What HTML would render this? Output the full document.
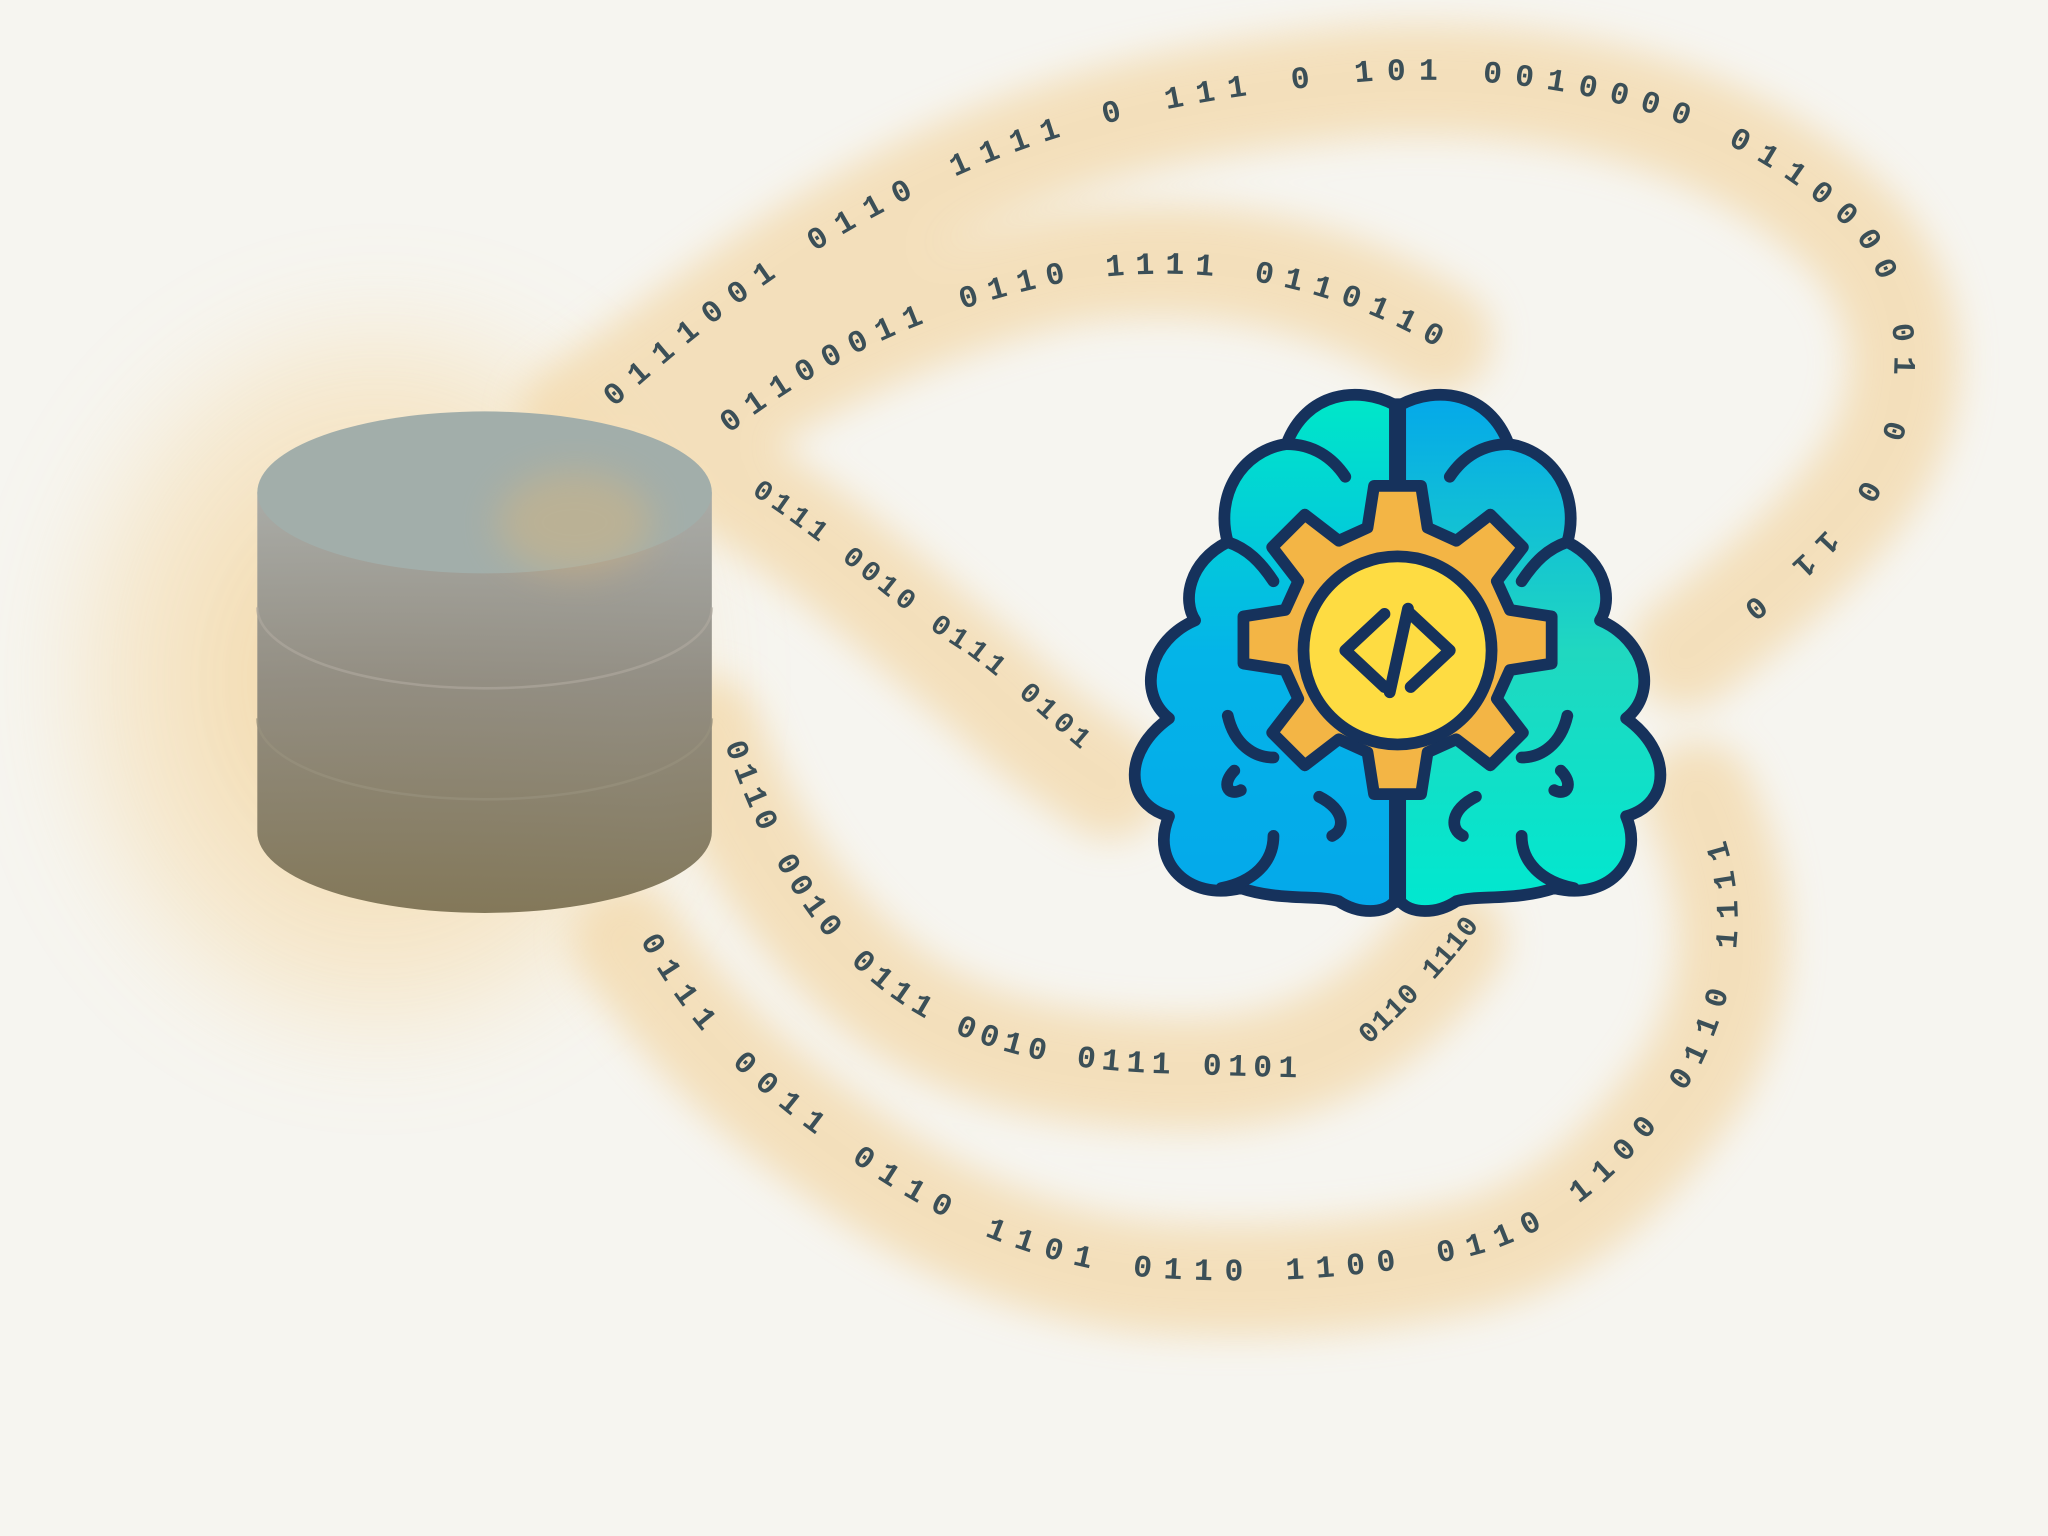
<!DOCTYPE html>
<html><head><meta charset="utf-8"><style>
html,body{margin:0;padding:0;background:#f6f5f0;}
svg{display:block}
text{font-family:"Liberation Mono",monospace;font-weight:bold;fill:#3b4f57;}
</style></head><body>
<svg width="2048" height="1536" viewBox="0 0 1568 1176" xmlns="http://www.w3.org/2000/svg">
<defs>
<filter id="bl" x="-30%" y="-30%" width="160%" height="160%"><feGaussianBlur stdDeviation="14"/></filter>
<filter id="bl2" x="-30%" y="-30%" width="160%" height="160%"><feGaussianBlur stdDeviation="40"/></filter>
<radialGradient id="rg" cx="0.5" cy="0.5" r="0.5"><stop offset="0" stop-color="#f0c070" stop-opacity="0.9"/><stop offset="1" stop-color="#f6dcaa" stop-opacity="0.5"/></radialGradient>
<linearGradient id="cyl" x1="0" y1="0" x2="0" y2="1"><stop offset="0" stop-color="#a6a9a6"/><stop offset="0.45" stop-color="#8e8a80"/><stop offset="1" stop-color="#7d7253"/></linearGradient>
<linearGradient id="lb" x1="0" y1="0" x2="0" y2="1"><stop offset="0" stop-color="#00e8c8"/><stop offset="0.5" stop-color="#04b4e8"/><stop offset="1" stop-color="#04a8ea"/></linearGradient>
<linearGradient id="rb" x1="0" y1="0" x2="0" y2="1"><stop offset="0" stop-color="#04a8ea"/><stop offset="0.5" stop-color="#20d8c0"/><stop offset="1" stop-color="#00e8d0"/></linearGradient>
<path id="p1" d="M470,312 C540,250 600,200 700,150 C800,100 900,75 1050,62 C1200,55 1330,90 1420,180 C1470,250 1450,330 1420,380 C1380,430 1340,460 1300,490"/>
<path id="p2" d="M558,332 C640,270 720,235 820,215 C920,200 1020,215 1115,275"/>
<path id="p3" d="M575,378 C640,420 690,470 740,500 C780,530 810,560 835,580"/>
<path id="p4" d="M555,570 C580,640 610,700 660,745 C720,800 800,820 900,822 C960,824 990,825 1010,825"/>
<path id="p4b" d="M1048,800 C1080,770 1110,740 1135,705"/>
<path id="p5" d="M490,720 C530,790 570,830 640,880 C720,940 800,970 880,978 C980,985 1060,975 1110,965 C1200,950 1260,880 1300,820 C1330,760 1340,700 1320,640 L1300,615"/>
</defs>
<rect width="1568" height="1176" fill="#f6f5f0"/>
<ellipse cx="290" cy="520" rx="235" ry="270" fill="url(#rg)" filter="url(#bl2)" opacity="0.75"/>
<g fill="none" stroke="#f3d7a6" stroke-width="85" stroke-linecap="round" filter="url(#bl)" opacity="0.7">
<path d="M440,320 C540,250 600,200 700,150 C800,100 900,75 1050,62 C1200,55 1330,90 1420,180 C1480,250 1460,330 1420,380 C1380,430 1340,460 1290,500"/>
<path d="M520,340 C600,280 720,225 820,205 C930,190 1020,210 1100,260"/>
<path d="M560,370 C640,420 700,480 750,520 C790,560 820,580 850,600"/>
<path d="M540,560 C570,640 610,700 660,745 C720,800 800,820 900,822 C990,825 1060,790 1110,720"/>
<path d="M480,720 C530,790 570,830 640,880 C720,940 800,970 880,978 C980,985 1060,975 1110,965 C1200,950 1260,880 1300,820 C1330,760 1340,700 1300,610"/>
</g>
<path d="M197,377 L197,637 A174,62 0 0 0 545,637 L545,377 Z" fill="url(#cyl)" opacity="0.95"/>
<path d="M197,465 A174,62 0 0 0 545,465" fill="none" stroke="#b0aaa0" stroke-width="2" opacity="0.6"/>
<path d="M197,550 A174,62 0 0 0 545,550" fill="none" stroke="#9a927e" stroke-width="2" opacity="0.6"/>
<ellipse cx="371" cy="377" rx="174" ry="62" fill="#a2aeaa"/>
<ellipse cx="440" cy="400" rx="60" ry="40" fill="#e8b870" opacity="0.35" filter="url(#bl)"/>
<text font-size="24"><textPath class="fit" href="#p1">0111001  0110 1111  0 111 0 101   0010000    0110000 01 0 0 11  0</textPath></text>
<text font-size="24"><textPath class="fit" href="#p2">01100011   0110 1111   0110110</textPath></text>
<text font-size="22"><textPath class="fit" href="#p3">0111 0010  0111 0101</textPath></text>
<text font-size="24"><textPath class="fit" href="#p4">0110 0010  0111 0010  0111 0101</textPath></text>
<text font-size="22"><textPath class="fit" href="#p4b">0110 1110</textPath></text>
<text font-size="24"><textPath class="fit" href="#p5">0111 0011   0110 1101   0110 1100  0110 1100  0110 1111</textPath></text>
<g stroke="#16325c" stroke-width="9" stroke-linejoin="round">
<path d="M1068,310 C1040,295 1000,300 985,340 C950,345 930,380 940,415 C910,430 905,460 915,475 C880,490 870,530 895,550 C860,575 860,615 895,625 C880,660 910,690 950,680 C980,690 1010,685 1025,690 C1040,700 1060,700 1068,690 Z" fill="url(#lb)"/>
<path d="M1072,310 C1100,295 1140,300 1155,340 C1190,345 1210,380 1200,415 C1230,430 1235,460 1225,475 C1260,490 1270,530 1245,550 C1280,575 1280,615 1245,625 C1260,660 1230,690 1190,680 C1160,690 1130,685 1115,690 C1100,700 1080,700 1072,690 Z" fill="url(#rb)"/>
<path d="M1070,305 L1070,695" fill="none"/>
<path d="M985,340 C1005,340 1020,350 1030,365 M940,415 C955,420 965,430 975,445 M1155,340 C1135,340 1120,350 1110,365 M1200,415 C1185,420 1175,430 1165,445 M940,548 C945,570 960,580 975,580 M1200,548 C1195,570 1180,580 1165,580 M945,590 C935,600 940,610 950,605 M1195,590 C1205,600 1200,610 1190,605 M1010,610 C1030,620 1030,635 1020,640 M1130,610 C1110,620 1110,635 1120,640 M1165,640 C1165,660 1180,675 1205,680 M975,640 C975,660 960,675 935,680" fill="none" stroke-linecap="round"/>
<path d="M1052,372 h36 l5,32 l22,10 l26,-20 l25,25 l-20,26 l10,22 l32,5 v36 l-32,5 l-10,22 l20,26 l-25,25 l-26,-20 l-22,10 l-5,32 h-36 l-5,-32 l-22,-10 l-26,20 l-25,-25 l20,-26 l-10,-22 l-32,-5 v-36 l32,-5 l10,-22 l-20,-26 l25,-25 l26,20 l22,-10 Z" fill="#f3b545"/>
<circle cx="1070" cy="498" r="72" fill="#fedc42"/>
<path d="M1060,470 L1030,498 L1060,526 M1080,470 L1110,498 L1080,526 M1078,466 L1064,530" fill="none" stroke-linecap="round"/>
</g>
</svg>
<script>
document.querySelectorAll('textPath.fit').forEach(function(tp){
  var p=document.querySelector(tp.getAttribute('href'));
  var L=p.getTotalLength();
  tp.setAttribute('textLength',(L*0.97).toFixed(0));
  tp.setAttribute('lengthAdjust','spacing');
});
</script>
</body></html>
